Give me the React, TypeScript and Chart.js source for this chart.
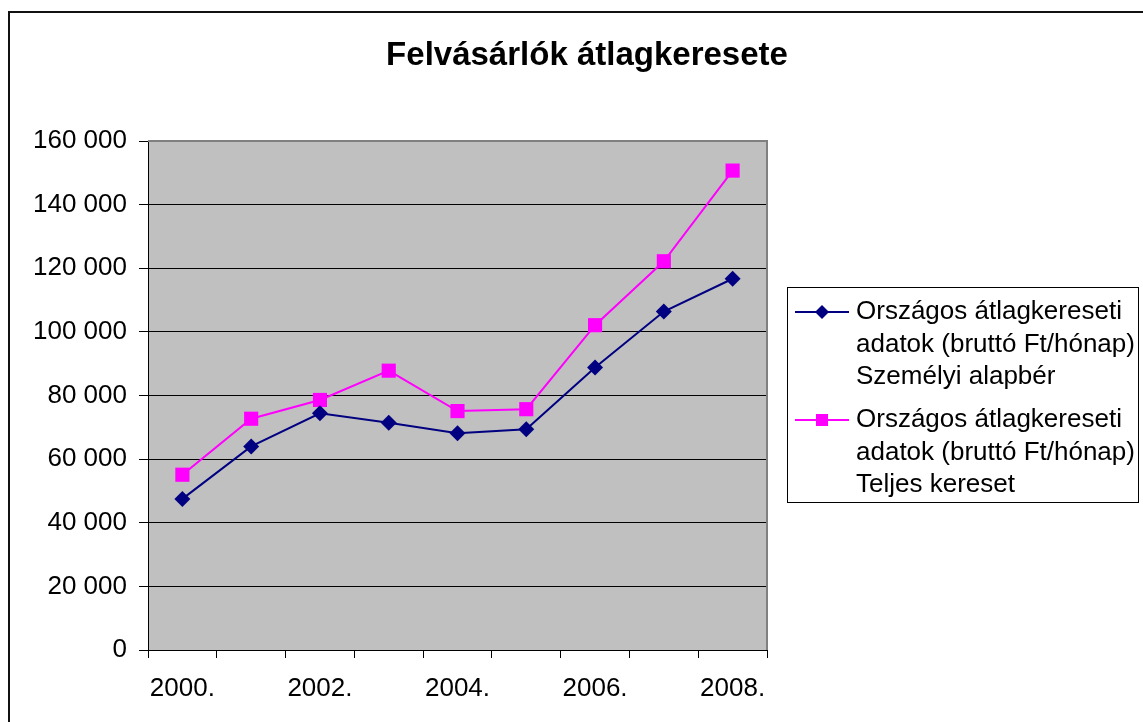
import React, { useEffect, useRef } from "react";
import { Chart, registerables } from "chart.js";

Chart.register(...registerables);

const categories = ["2000.", "2001.", "2002.", "2003.", "2004.", "2005.", "2006.", "2007.", "2008."];
const alapberValues = [47500, 64000, 74400, 71400, 68100, 69400, 88800, 106400, 116700];
const teljesValues = [55100, 72700, 78600, 87800, 75100, 75700, 102100, 122200, 150700];
const seriesNames = [
  ["Országos átlagkereseti", "adatok (bruttó Ft/hónap)", "Személyi alapbér"],
  ["Országos átlagkereseti", "adatok (bruttó Ft/hónap)", "Teljes kereset"],
];
const titleText = "Felvásárlók átlagkeresete";
const yMin = 0;
const yMax = 160000;
const yStep = 20000;

const FONT = "'Liberation Sans', Arial, sans-serif";
const NAVY = "#000080";
const MAGENTA = "#FF00FF";

function fmt(v: number): string {
  return String(v).replace(/\B(?=(\d{3})+(?!\d))/g, " ");
}

const decorPlugin = {
  id: "decor",
  beforeDraw(chart: any) {
    const { ctx, chartArea } = chart;
    ctx.save();
    ctx.fillStyle = "#ffffff";
    ctx.fillRect(0, 0, chart.width, chart.height);
    ctx.fillStyle = "#C0C0C0";
    ctx.fillRect(chartArea.left, chartArea.top, chartArea.right - chartArea.left, chartArea.bottom - chartArea.top);
    ctx.restore();
  },
  beforeDatasetsDraw(chart: any) {
    const { ctx, chartArea } = chart;
    ctx.save();
    ctx.strokeStyle = "#808080";
    ctx.lineWidth = 2;
    ctx.beginPath();
    ctx.moveTo(chartArea.left, chartArea.top);
    ctx.lineTo(chartArea.right, chartArea.top);
    ctx.lineTo(chartArea.right, chartArea.bottom);
    ctx.stroke();
    ctx.restore();
  },
  afterDraw(chart: any) {
    const { ctx } = chart;
    ctx.save();
    // outer frame
    ctx.strokeStyle = "#111111";
    ctx.lineWidth = 2;
    ctx.strokeRect(9, 12, 1400, 1000);
    // title
    ctx.fillStyle = "#000";
    ctx.font = `bold 33px ${FONT}`;
    ctx.textAlign = "center";
    ctx.textBaseline = "middle";
    ctx.fillText(titleText, 587, 56);
    // legend box
    ctx.strokeStyle = "#000";
    ctx.lineWidth = 1;
    ctx.strokeRect(787.5, 287.5, 351, 215);
    const starts = [312, 420];
    const colors = [NAVY, MAGENTA];
    ctx.font = `26px ${FONT}`;
    ctx.textAlign = "left";
    for (let i = 0; i < 2; i++) {
      const y = starts[i];
      ctx.strokeStyle = colors[i];
      ctx.lineWidth = 2;
      ctx.beginPath();
      ctx.moveTo(795, y);
      ctx.lineTo(849, y);
      ctx.stroke();
      ctx.fillStyle = colors[i];
      ctx.beginPath();
      if (i === 0) {
        ctx.moveTo(822, y - 7);
        ctx.lineTo(829, y);
        ctx.lineTo(822, y + 7);
        ctx.lineTo(815, y);
        ctx.closePath();
      } else {
        ctx.rect(816, y - 6, 12, 12);
      }
      ctx.fill();
      ctx.fillStyle = "#000";
      seriesNames[i].forEach((line, k) => {
        ctx.fillText(line, 856, y + k * 32.5);
      });
    }
    ctx.restore();
  },
};

export default function App() {
  const ref = useRef<HTMLCanvasElement | null>(null);
  useEffect(() => {
    document.body.style.margin = "0";
    const canvas = ref.current;
    if (!canvas) return;
    const chart = new Chart(canvas, {
      type: "line",
      data: {
        labels: categories,
        datasets: [
          {
            label: seriesNames[0].join(" "),
            data: alapberValues,
            borderColor: NAVY,
            backgroundColor: NAVY,
            borderWidth: 2,
            pointStyle: "rectRot",
            pointRadius: 8,
            pointBorderWidth: 0,
            tension: 0,
          },
          {
            label: seriesNames[1].join(" "),
            data: teljesValues,
            borderColor: MAGENTA,
            backgroundColor: MAGENTA,
            borderWidth: 2,
            pointStyle: "rect",
            pointRadius: 10,
            pointBorderWidth: 0,
            tension: 0,
          },
        ],
      },
      options: {
        animation: false,
        responsive: false,
        maintainAspectRatio: false,
        layout: { padding: { left: 0, right: 376, top: 141, bottom: 0 } },
        plugins: {
          legend: { display: false },
          title: { display: false },
          tooltip: { enabled: false },
        },
        scales: {
          x: {
            type: "category",
            offset: true,
            afterFit: (s: any) => {
              s.height = 72;
            },
            grid: {
              offset: true,
              drawOnChartArea: false,
              drawTicks: true,
              tickLength: 8,
              color: "#000",
            },
            border: { display: true, color: "#000", width: 1 },
            ticks: {
              autoSkip: false,
              maxRotation: 0,
              padding: 15,
              color: "#000",
              font: { family: FONT, size: 26 },
              callback: (_v: any, i: number) => (i % 2 === 0 ? categories[i] : ""),
            },
          },
          y: {
            min: yMin,
            max: yMax,
            afterFit: (s: any) => {
              s.width = 148;
            },
            grid: {
              color: "#000",
              lineWidth: 1,
              drawTicks: true,
              tickLength: 9,
            },
            border: { display: true, color: "#000", width: 1 },
            ticks: {
              stepSize: yStep,
              padding: 12,
              color: "#000",
              font: { family: FONT, size: 26 },
              callback: (v: any) => fmt(Number(v)),
            },
          },
        },
      },
      plugins: [decorPlugin],
    });
    return () => chart.destroy();
  }, []);
  return <canvas ref={ref} width={1143} height={722} style={{ display: "block" }} />;
}
